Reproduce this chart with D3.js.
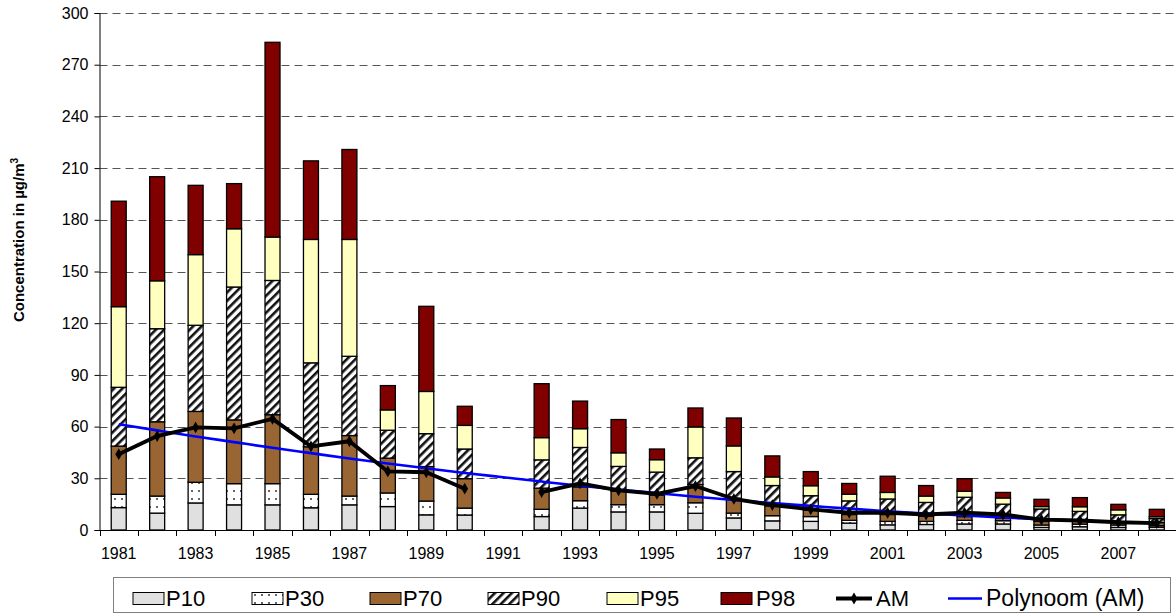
<!DOCTYPE html>
<html><head><meta charset="utf-8">
<script src="https://cdn.jsdelivr.net/npm/d3@7"></script>
<style>
body{margin:0;background:#fff}
svg{display:block}
text{font-family:Arial,"Liberation Sans",sans-serif;fill:#000}
</style>
</head><body>
<svg id="chart" width="1176" height="614"></svg>
<script>
const years = ["1981","1982","1983","1984","1985","1986","1987","1988","1989","1990","1991","1992","1993","1994","1995","1996","1997","1998","1999","2000","2001","2002","2003","2004","2005","2006","2007","2008"];
const p10 = [13,9.8,15.7,14.6,14.6,12.9,14.6,13.6,8.8,8.7,null,7.8,12.7,10.5,10.5,9.7,7,5.3,5,4,3,3.2,3.5,3.5,1.5,1.9,1.5,1.6];
const p30 = [20.7,19.7,27.7,26.9,26.9,20.7,19.7,21.5,16.8,12.7,null,12,17,14.7,14.7,15.8,9.8,8.3,7.8,5.6,5,5,5.6,5.4,2.9,3.4,2.9,2.5];
const p70 = [48.7,62.8,68.8,63.9,66.9,48.3,54.8,41.7,36.8,29.8,null,24.3,25,22.5,20.3,26.5,18.5,14,11.7,9,9,8,7.8,7,5,5.5,4.2,4.3];
const p90 = [82.8,116.8,118.8,141,144.8,97,100.8,57.9,55.9,47,null,40.7,47.9,36.9,33.6,41.9,33.9,25.8,19.9,16.9,18,16,19,15,12.2,10.8,8.8,6.6];
const p95 = [129.6,144.6,159.8,174.8,170,168.6,168.6,69.7,80.4,60.7,null,53.6,58.8,44.8,40.8,59.8,48.8,30.8,25.7,20.8,21.8,19.7,22.5,18.6,13.6,13.5,11.7,7.7];
const p98 = [190.8,205,200,201,283,214.2,220.8,83.8,129.8,71.8,null,84.9,74.8,64.1,47,70.8,65,43,33.9,27,31.2,25.8,29.8,21.8,17.8,18.8,14.9,12];
const am = [44,54.5,59.5,59,64.5,48.5,51.5,34,33.5,24,null,22,27,23,21,25.5,18,14.5,12,10,10,9,10,9,6,5.5,4.5,4];
const polyAM = [61.4,57.8,54.3,51.0,47.7,44.6,41.5,38.6,35.8,33.1,30.6,28.1,25.7,23.5,21.4,19.3,17.4,15.6,14.0,12.4,10.9,9.6,8.4,7.3,6.2,5.4,4.6,3.9];
const yTicks = [0,30,60,90,120,150,180,210,240,270,300];
const xTickLabels = ["1981","1983","1985","1987","1989","1991","1993","1995","1997","1999","2001","2003","2005","2007"];
const seriesNames = ["P10","P30","P70","P90","P95","P98"];
const seriesValues = [p10,p30,p70,p90,p95,p98];
const seriesFills = ["#E0E0E0","url(#dots)","#996633","url(#hatch)","#FFFFC0","#800000"];

const svg = d3.select("#chart");
const defs = svg.append("defs");
const dots = defs.append("pattern").attr("id","dots").attr("patternUnits","userSpaceOnUse")
  .attr("width",7).attr("height",8);
dots.append("rect").attr("width",7).attr("height",8).attr("fill","#fff");
dots.append("circle").attr("cx",3).attr("cy",3).attr("r",1).attr("fill","#333");
const hatch = defs.append("pattern").attr("id","hatch").attr("patternUnits","userSpaceOnUse")
  .attr("width",6).attr("height",6).attr("patternTransform","rotate(45)");
hatch.append("rect").attr("width",6).attr("height",6).attr("fill","#fff");
hatch.append("rect").attr("width",2.6).attr("height",6).attr("fill","#111");

const x = d3.scaleBand().domain(years).range([99.5,1176]).padding(0);
const y = d3.scaleLinear().domain([0,300]).range([530,13]);
const barW = x.bandwidth()*0.39;

// gridlines
svg.append("g").selectAll("line").data(yTicks.filter(v=>v>0)).join("line")
  .attr("x1",99.5).attr("x2",1176).attr("y1",d=>Math.round(y(d))+0.5).attr("y2",d=>Math.round(y(d))+0.5)
  .attr("stroke","#555").attr("stroke-width",1).attr("stroke-dasharray","8,5");

// bars
const gBars = svg.append("g");
years.forEach((yr,i)=>{
  if (p10[i]==null) return;
  let prev = 0;
  seriesValues.forEach((arr,s)=>{
    const v = arr[i];
    gBars.append("rect")
      .attr("x", x(yr) + (x.bandwidth()-barW)/2)
      .attr("y", y(v))
      .attr("width", barW)
      .attr("height", Math.max(0, y(prev)-y(v)))
      .attr("fill", seriesFills[s])
      .attr("stroke","#000").attr("stroke-width",1.3);
    prev = v;
  });
});

// axes
const yAxis = d3.axisLeft(y).tickValues(yTicks).tickSize(5).tickPadding(6);
const gy = svg.append("g").attr("transform","translate(99.5,0)").call(yAxis);
gy.select(".domain").attr("stroke","#000");
gy.selectAll("text").attr("font-size",16).attr("font-family","Arial, 'Liberation Sans', sans-serif");

svg.append("line").attr("x1",99.5).attr("x2",1176).attr("y1",530.5).attr("y2",530.5).attr("stroke","#000");
const boundaries = years.map(yr=>x(yr)).concat([x(years[years.length-1])+x.bandwidth()]);
svg.append("g").selectAll("line").data(boundaries).join("line")
  .attr("x1",d=>Math.round(d)+0.5).attr("x2",d=>Math.round(d)+0.5).attr("y1",530.5).attr("y2",536)
  .attr("stroke","#000");
svg.append("g").selectAll("text").data(xTickLabels).join("text")
  .attr("x",d=>x(d)+x.bandwidth()/2).attr("y",559).attr("text-anchor","middle")
  .attr("font-size",16).text(d=>d);

// y title
const yt = svg.append("text").attr("transform","translate(24,240) rotate(-90)")
  .attr("text-anchor","middle").attr("font-size",15).attr("font-weight","bold");
yt.append("tspan").text("Concentration in µg/m");
yt.append("tspan").attr("dy",-6).attr("font-size",10).text("3");

// polynomial trend
const cx = d => x(d) + x.bandwidth()/2;
svg.append("path").datum(years.map((yr,i)=>[cx(yr), y(polyAM[i])]))
  .attr("d", d3.line().curve(d3.curveMonotoneX))
  .attr("fill","none").attr("stroke","#0000FF").attr("stroke-width",2.6);

// AM line
svg.append("path").datum(years.map((yr,i)=>({yr,v:am[i]})))
  .attr("d", d3.line().defined(d=>d.v!=null).x(d=>cx(d.yr)).y(d=>y(d.v)))
  .attr("fill","none").attr("stroke","#000").attr("stroke-width",3.8).attr("stroke-linejoin","round");
svg.append("g").selectAll("path").data(years.map((yr,i)=>({yr,v:am[i]})).filter(d=>d.v!=null)).join("path")
  .attr("transform",d=>`translate(${cx(d.yr)},${y(d.v)})`)
  .attr("d", d3.symbol(d3.symbolDiamond,40)).attr("fill","#000");

// legend
const lg = svg.append("g");
lg.append("rect").attr("x",113.5).attr("y",577.5).attr("width",1057).attr("height",35)
  .attr("fill","#fff").attr("stroke","#808080").attr("stroke-width",1);
const swX = [133,252,370,488,607,721];
const txX = [166,285,403,521,640,756];
seriesNames.forEach((n,s)=>{
  lg.append("rect").attr("x",swX[s]).attr("y",592.5).attr("width",31).attr("height",12)
    .attr("fill",seriesFills[s]).attr("stroke","#000").attr("stroke-width",1);
  lg.append("text").attr("x",txX[s]).attr("y",606).attr("font-size",22).text(n);
});
lg.append("line").attr("x1",836).attr("x2",872).attr("y1",598.5).attr("y2",598.5).attr("stroke","#000").attr("stroke-width",3.8);
lg.append("path").attr("transform","translate(854,598.5)").attr("d",d3.symbol(d3.symbolDiamond,40)).attr("fill","#000");
lg.append("text").attr("x",876).attr("y",606).attr("font-size",22).text("AM");
lg.append("line").attr("x1",948).attr("x2",982).attr("y1",598.5).attr("y2",598.5).attr("stroke","#0000FF").attr("stroke-width",2.6);
lg.append("text").attr("x",986).attr("y",606).attr("font-size",23).text("Polynoom (AM)");
</script>
</body></html>
